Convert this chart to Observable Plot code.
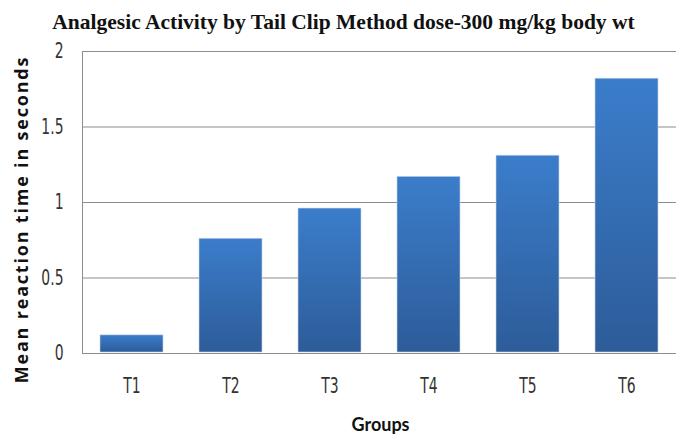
<!DOCTYPE html>
<html>
<head>
<meta charset="utf-8">
<script src="https://cdn.jsdelivr.net/npm/d3@7"></script>
<script src="https://cdn.jsdelivr.net/npm/@observablehq/plot@0.6"></script>
<style>
  html, body { margin: 0; padding: 0; background: #fff; }
  #chart svg { display: block; }
</style>
</head>
<body>
<div id="chart"></div>
<script>
const groups = ["T1", "T2", "T3", "T4", "T5", "T6"];
const reactionTimes = [0.12, 0.76, 0.96, 1.17, 1.31, 1.82];
const yTicks = [0, 0.5, 1, 1.5, 2];
const yTickLabels = ["0", "0.5", "1", "1.5", "2"];

const data = groups.map((g, i) => ({group: g, value: reactionTimes[i]}));

const gradientDefs = () => {
  const ns = "http://www.w3.org/2000/svg";
  const defs = document.createElementNS(ns, "defs");
  defs.innerHTML = `<linearGradient id="barGrad" x1="0" y1="0" x2="0" y2="1">
      <stop offset="0%" stop-color="#3b7dcb"/>
      <stop offset="100%" stop-color="#2d5c99"/>
    </linearGradient>`;
  return defs;
};

const tickFont = "'DejaVu Sans Condensed', 'Liberation Sans Narrow', sans-serif";
const yLabelText = "Mean reaction time in seconds";

const chart = Plot.plot({
  width: 676,
  height: 435,
  marginLeft: 82,
  marginRight: 0,
  marginTop: 51,
  marginBottom: 82,
  style: {background: "#fff"},
  x: {domain: groups, paddingInner: 0.364, paddingOuter: 0.182, label: null},
  y: {domain: [0, 2], ticks: yTicks, label: null},
  marks: [
    gradientDefs,
    Plot.gridY(yTicks, {stroke: "#8c8c8c", strokeOpacity: 1, strokeWidth: 1}),
    Plot.barY(data, {x: "group", y: "value", fill: "url(#barGrad)", stroke: "#c9d4e4", strokeWidth: 0.6, insetBottom: 1}),
    Plot.axisY({ticks: yTicks, tickSize: 0, tickPadding: 19, fill: "#333",
      fontSize: 15.5, fontFamily: tickFont, lineAnchor: "middle",
      tickFormat: (d) => yTickLabels[yTicks.indexOf(d)]}),
    Plot.axisX({tickSize: 0, tickPadding: 25, fill: "#333", fontSize: 15.5, fontFamily: tickFont, lineAnchor: "top"}),
    Plot.ruleY([0], {stroke: "#8c8c8c"}),
    Plot.text(["Analgesic Activity by Tail Clip Method dose-300 mg/kg body wt"], {
      frameAnchor: "top", dy: -23, dx: -36, lineAnchor: "bottom",
      fontFamily: "'Liberation Serif', 'Times New Roman', serif",
      fontWeight: "bold", fontSize: 21.5, fill: "#111"}),
    Plot.text([yLabelText], {
      frameAnchor: "left", textAnchor: "middle", lineAnchor: "bottom",
      dx: -55, dy: 17, rotate: -90,
      fontFamily: "'Open Sans', sans-serif",
      fontWeight: "bold", fontSize: 18, fill: "#111"}),
    Plot.text(["Groups"], {
      frameAnchor: "bottom", lineAnchor: "bottom", dy: 77, dx: 1,
      fontFamily: "Lato, sans-serif",
      fontWeight: "bold", fontSize: 18, fill: "#111"})
  ]
});

const svg = d3.select(chart);
// tall, narrow tick labels: stretch vertically around their anchor
svg.selectAll('g[aria-label$="tick label"] text')
  .style("font-size", "15.5px").style("font-family", tickFont)
  .attr("transform", function() {
    const t = this.getAttribute("transform") || "";
    return t + " scale(1,1.32)";
  });
// letter spacing for the y-axis title
svg.selectAll("text").filter(function() { return this.textContent === yLabelText; })
  .style("letter-spacing", "1.8px");

// left axis line
svg.append("line")
  .attr("x1", 82.5).attr("x2", 82.5).attr("y1", 51).attr("y2", 353)
  .attr("stroke", "#8c8c8c");

document.getElementById("chart").appendChild(chart);
</script>
</body>
</html>
